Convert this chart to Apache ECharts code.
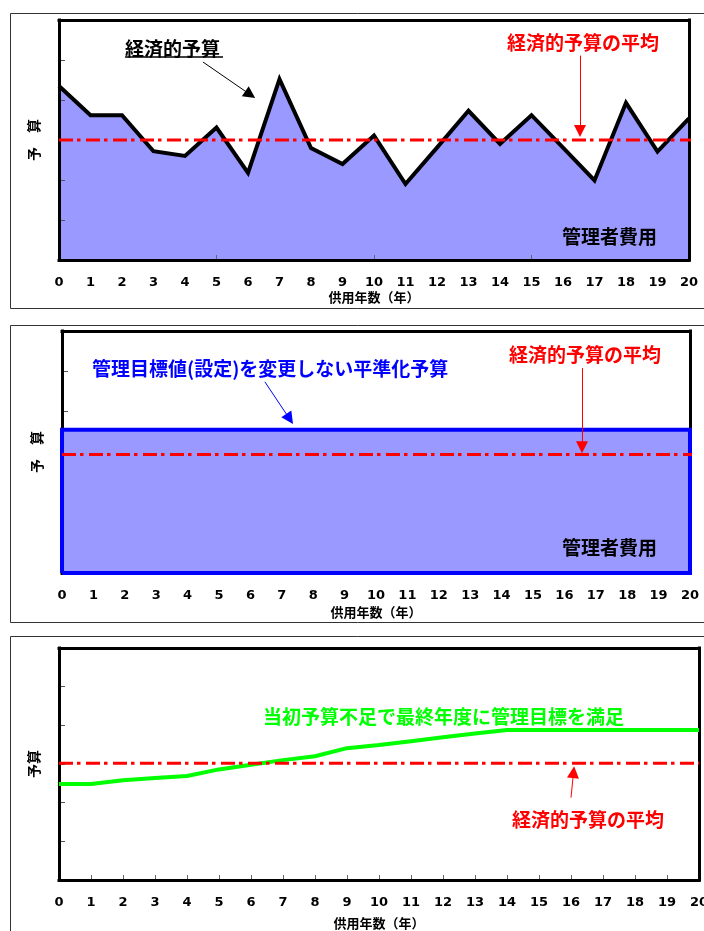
<!DOCTYPE html>
<html>
<head>
<meta charset="utf-8">
<script src="https://cdn.jsdelivr.net/npm/echarts@6/dist/echarts.min.js"></script>
<style>
  html, body { margin: 0; padding: 0; background: #ffffff; }
  #chart { width: 704px; height: 931px; }
</style>
</head>
<body>
<div id="chart"></div>
<script>
// 供用年数 (years in service)
const years = [0, 1, 2, 3, 4, 5, 6, 7, 8, 9, 10, 11, 12, 13, 14, 15, 16, 17, 18, 19, 20];

// 経済的予算 : yearly economic budget
const economicBudget = [4.35, 3.62, 3.62, 2.72, 2.60, 3.31, 2.18, 4.52, 2.80, 2.40, 3.11,
                        1.90, 2.81, 3.73, 2.90, 3.62, 2.81, 1.99, 3.93, 2.71, 3.54];

// 平準化予算 : levelled budget, management target unchanged
const levelledBudget = [3.55, 3.55, 3.55, 3.55, 3.55, 3.55, 3.55, 3.55, 3.55, 3.55, 3.55,
                        3.55, 3.55, 3.55, 3.55, 3.55, 3.55, 3.55, 3.55, 3.55, 3.55];

// 当初予算不足 : budget short at first, target met by the final year
const deferredBudget = [2.48, 2.48, 2.58, 2.64, 2.69, 2.86, 2.98, 3.10, 3.20, 3.41, 3.49,
                        3.59, 3.69, 3.79, 3.88, 3.88, 3.88, 3.88, 3.88, 3.88, 3.88];

// 経済的予算の平均 as drawn in each panel
const economicAverage = [3.00, 2.94, 3.02];

const JP = '"Noto Sans CJK JP", "Noto Sans CJK SC", sans-serif';
const FILL = '#9999ff';
const RED = '#ff0000';
const BLUE = '#0000ff';
const GREEN = '#00ff00';
const DASH_DOT = [14, 4, 3.5, 5.5];

const grids = [
  { left: 59, top: 20, width: 630, height: 240, outerBoundsMode: 'none', containLabel: false },
  { left: 62, top: 331, width: 628, height: 242, outerBoundsMode: 'none', containLabel: false },
  { left: 59, top: 648, width: 640, height: 232, outerBoundsMode: 'none', containLabel: false }
];
const tickSpacing = [5, 5, 1];
const nameGaps = [31, 33, 37];
const yNames = ['予　算', '予　算', '予算'];

const xAxes = [];
const yAxes = [];
grids.forEach((g, i) => {
  // bottom axis: frame line, year labels and axis name
  xAxes.push({
    type: 'value', gridIndex: i, position: 'bottom', min: 0, max: 20, interval: 1, z: 4,
    axisLine: { show: true, onZero: false, lineStyle: { color: '#000', width: 3, cap: 'square' } },
    axisTick: { show: false },
    splitLine: { show: false },
    axisLabel: { show: true, margin: 16, color: '#000', fontSize: 13, fontWeight: 'bold',
                 fontFamily: '"DejaVu Sans", sans-serif' },
    name: '供用年数（年）', nameLocation: 'middle', nameGap: nameGaps[i],
    nameTextStyle: { color: '#000', fontSize: 13, fontWeight: 'bold', fontFamily: JP }
  });
  // bottom tick marks, pointing inwards
  xAxes.push({
    type: 'value', gridIndex: i, position: 'bottom', min: 0, max: 20, interval: tickSpacing[i], z: 3,
    axisLine: { show: false, onZero: false },
    axisTick: { show: true, inside: true, length: 5, lineStyle: { color: '#666', width: 1 } },
    axisLabel: { show: false }, splitLine: { show: false }
  });
  // top frame line
  xAxes.push({
    type: 'value', gridIndex: i, position: 'top', min: 0, max: 20, z: 4,
    axisLine: { show: true, onZero: false, lineStyle: { color: '#000', width: 3, cap: 'square' } },
    axisTick: { show: false }, axisLabel: { show: false }, splitLine: { show: false }
  });

  // left frame line and axis name
  yAxes.push({
    type: 'value', gridIndex: i, position: 'left', min: 0, max: 6, interval: 1, z: 4,
    axisLine: { show: true, onZero: false, lineStyle: { color: '#000', width: 3, cap: 'square' } },
    axisTick: { show: false }, axisLabel: { show: false }, splitLine: { show: false },
    name: yNames[i], nameLocation: 'middle', nameRotate: 90, nameGap: 18,
    nameTextStyle: { color: '#000', fontSize: 14, fontWeight: 'bold', fontFamily: JP }
  });
  // left tick marks, pointing inwards
  yAxes.push({
    type: 'value', gridIndex: i, position: 'left', min: 0, max: 6, interval: 1, z: 3,
    axisLine: { show: false, onZero: false },
    axisTick: { show: true, inside: true, length: 6, lineStyle: { color: '#555', width: 1 } },
    axisLabel: { show: false }, splitLine: { show: false }
  });
  // right frame line
  yAxes.push({
    type: 'value', gridIndex: i, position: 'right', min: 0, max: 6, z: 4,
    axisLine: { show: true, onZero: false, lineStyle: { color: '#000', width: 3, cap: 'square' } },
    axisTick: { show: false }, axisLabel: { show: false }, splitLine: { show: false }
  });
});

function pairs(values) {
  return years.map((x, k) => [x, values[k]]);
}

// thin pointer line with a triangular head, in data coordinates
function arrow(from, to, color) {
  return {
    silent: true,
    z: 20,
    symbol: ['none', 'triangle'],
    symbolSize: 12,
    label: { show: false },
    emphasis: { disabled: true },
    lineStyle: { type: 'solid', width: 1, color: color },
    data: [[{ coord: from }, { coord: to }]]
  };
}

function averageLine(i, xEnd, mark) {
  return {
    type: 'line', xAxisIndex: i * 3, yAxisIndex: i * 3, z: 6, clip: false,
    symbol: 'none', silent: true,
    data: [[0, economicAverage[i]], [xEnd, economicAverage[i]]],
    lineStyle: { color: RED, width: 3, type: DASH_DOT },
    markLine: mark
  };
}

// levelled budget outline: closed down to the axis at both ends
const levelledOutline = [[years[0], 0]].concat(pairs(levelledBudget))
  .concat([[years[years.length - 1], 0], [years[0], 0]]);

const series = [
  // panel 1
  {
    type: 'line', xAxisIndex: 0, yAxisIndex: 0, z: 2, symbol: 'none', silent: true,
    data: pairs(economicBudget),
    lineStyle: { color: '#000', width: 4, join: 'miter' },
    areaStyle: { color: FILL, opacity: 1 },
    markLine: arrow([4.57, 4.95], [6.07, 4.135], '#000')
  },
  averageLine(0, 20.25, arrow([16.54, 5.11], [16.54, 3.225], RED)),

  // panel 2
  {
    type: 'line', xAxisIndex: 3, yAxisIndex: 3, z: 5, symbol: 'none', silent: true,
    data: levelledOutline,
    lineStyle: { color: BLUE, width: 4, join: 'miter' },
    areaStyle: { color: FILL, opacity: 1 },
    markLine: arrow([6.46, 4.74], [7.25, 3.82], BLUE)
  },
  averageLine(1, 20.22, arrow([16.56, 5.08], [16.56, 3.12], RED)),

  // panel 3
  {
    type: 'line', xAxisIndex: 6, yAxisIndex: 6, z: 5, symbol: 'none', silent: true,
    data: pairs(deferredBudget),
    lineStyle: { color: GREEN, width: 4 }
  },
  averageLine(2, 20, arrow([16.0, 2.13], [16.08, 2.79], RED))
];

function label(text, x, y, color) {
  return {
    type: 'text', z: 100, silent: true,
    style: { text: text, x: x, y: y, fill: color, font: 'bold 19px ' + JP,
             align: 'left', textAlign: 'left', verticalAlign: 'middle', textVerticalAlign: 'middle' }
  };
}

function frame(top, bottom) {
  return {
    type: 'rect', z: 100, silent: true,
    shape: { x: 10.5, y: top, width: 900, height: bottom - top },
    style: { fill: 'none', stroke: '#333', lineWidth: 1 }
  };
}

const graphic = [
  frame(13.5, 308.5),
  frame(325.5, 622.5),
  frame(636.5, 1100),

  label('経済的予算', 125, 49, '#000'),
  { type: 'line', z: 100, silent: true,
    shape: { x1: 125, y1: 57, x2: 223, y2: 57 }, style: { stroke: '#000', lineWidth: 1.5 } },
  label('経済的予算の平均', 507, 43, RED),
  label('管理者費用', 562, 237, '#000'),

  label('管理目標値(設定)を変更しない平準化予算', 92, 369, BLUE),
  label('経済的予算の平均', 509, 355, RED),
  label('管理者費用', 562, 548, '#000'),

  label('当初予算不足で最終年度に管理目標を満足', 263, 717, GREEN),
  label('経済的予算の平均', 512, 820, RED)
];

const chart = echarts.init(document.getElementById('chart'), null, { renderer: 'canvas' });
chart.setOption({
  animation: false,
  backgroundColor: '#ffffff',
  grid: grids,
  xAxis: xAxes,
  yAxis: yAxes,
  series: series,
  graphic: graphic
});
</script>
</body>
</html>
